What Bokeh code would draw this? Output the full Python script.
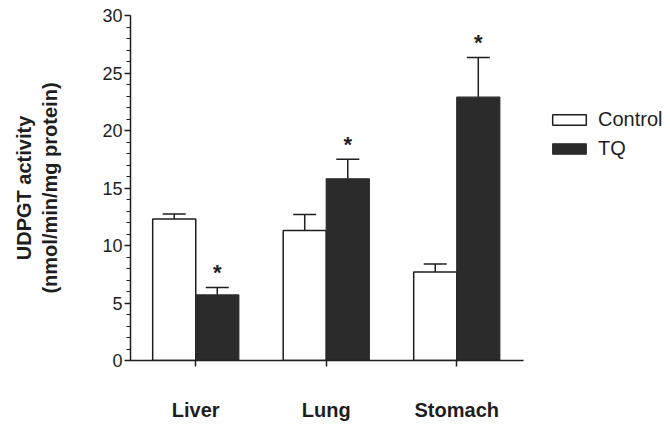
from bokeh.plotting import figure
from bokeh.models import (ColumnDataSource, Range1d, Whisker, TeeHead,
                          Legend, LegendItem, SingleIntervalTicker, FixedTicker)
from bokeh.transform import dodge
from bokeh.core.properties import value
from bokeh.embed import file_html
from bokeh.resources import INLINE

categories = ["Liver", "Lung", "Stomach"]
control = [12.3, 11.3, 7.7]
control_err = [0.45, 1.4, 0.7]
tq = [5.7, 15.8, 22.9]
tq_err = [0.65, 1.7, 3.45]
tq_sig = ["*", "*", "*"]
series_names = ["Control", "TQ"]

FONT = "Liberation Sans"
INK = "#1e1e1e"
DARK = "#2b2b2b"

xs = list(range(1, len(categories) + 1))
src = ColumnDataSource(dict(
    x=xs,
    cat=categories,
    control=control,
    control_up=[v + e for v, e in zip(control, control_err)],
    tq=tq,
    tq_up=[v + e for v, e in zip(tq, tq_err)],
    sig=tq_sig,
))

W, H = 668, 426
LEFT, TOP, BOTTOM = 130, 15, 66
px_per_unit = 130.5
x_start = 0.5
x_end = x_start + (W - LEFT) / px_per_unit

p = figure(
    x_range=Range1d(x_start, x_end),
    y_range=Range1d(0, 30),
    width=W, height=H,
    min_border_left=LEFT, min_border_right=0,
    min_border_top=TOP, min_border_bottom=BOTTOM,
    output_backend="svg", toolbar_location=None,
)
p.outline_line_color = None
p.xgrid.grid_line_color = None
p.ygrid.grid_line_color = None
p.background_fill_color = "white"
p.border_fill_color = "white"

w = 0.33
r_c = p.vbar(x=dodge("x", -w / 2), top="control", width=w,
             bottom=0, source=src, fill_color="white", line_color=INK, line_width=1.5)
r_t = p.vbar(x=dodge("x", w / 2), top="tq", width=w,
             bottom=0, source=src, fill_color=DARK, line_color=DARK, line_width=1.2)

for col, up, off in (("control", "control_up", -w / 2), ("tq", "tq_up", w / 2)):
    wh = Whisker(base=dodge("x", off), lower=col, upper=up,
                 source=src, line_color=INK, line_width=1.5,
                 lower_head=None,
                 upper_head=TeeHead(size=23, line_color=INK, line_width=1.5))
    p.add_layout(wh)

p.text(x=dodge("x", w / 2), y="tq_up", text="sig", source=src,
       text_align="center", text_baseline="bottom", y_offset=-2,
       text_font=value(FONT), text_font_size="22px", text_font_style="bold",
       text_color=INK)

# axes
p.yaxis.ticker = SingleIntervalTicker(interval=5, num_minor_ticks=5)
p.xaxis.ticker = FixedTicker(ticks=xs, minor_ticks=[])
p.xaxis.major_label_overrides = {x: c for x, c in zip(xs, categories)}
p.xaxis.bounds = (x_start, len(categories) + 0.51)
for ax in (p.xaxis[0], p.yaxis[0]):
    ax.axis_line_color = INK
    ax.axis_line_width = 1.5
    ax.major_tick_line_color = INK
    ax.major_tick_line_width = 1.5
    ax.major_tick_in = 0
    ax.major_tick_out = 6
    ax.minor_tick_line_color = INK
    ax.minor_tick_line_width = 1.2
    ax.minor_tick_in = 0
    ax.minor_tick_out = 4
    ax.major_label_text_color = INK
    ax.major_label_text_font = FONT

p.yaxis.major_label_text_font_size = "18px"
p.yaxis.major_label_standoff = 2
p.yaxis.axis_label = "UDPGT activity\n(nmol/min/mg protein)"
p.yaxis.axis_label_text_font = FONT
p.yaxis.axis_label_text_font_size = "20px"
p.yaxis.axis_label_text_font_style = "bold"
p.yaxis.axis_label_text_color = INK
p.yaxis.axis_label_standoff = 38

p.xaxis.major_label_text_font_size = "20px"
p.xaxis.major_label_text_font_style = "bold"
p.xaxis.major_label_standoff = 32

legend = Legend(items=[LegendItem(label=series_names[0], renderers=[r_c]),
                       LegendItem(label=series_names[1], renderers=[r_t])],
                location=(418, 200), orientation="vertical",
                glyph_width=42, glyph_height=13, label_standoff=8,
                spacing=6, padding=0, margin=0,
                label_text_font=FONT, label_text_font_size="20px",
                label_text_color=INK,
                border_line_color=None, background_fill_alpha=0)
p.add_layout(legend)

open("out.html", "w").write(file_html(p, INLINE))
